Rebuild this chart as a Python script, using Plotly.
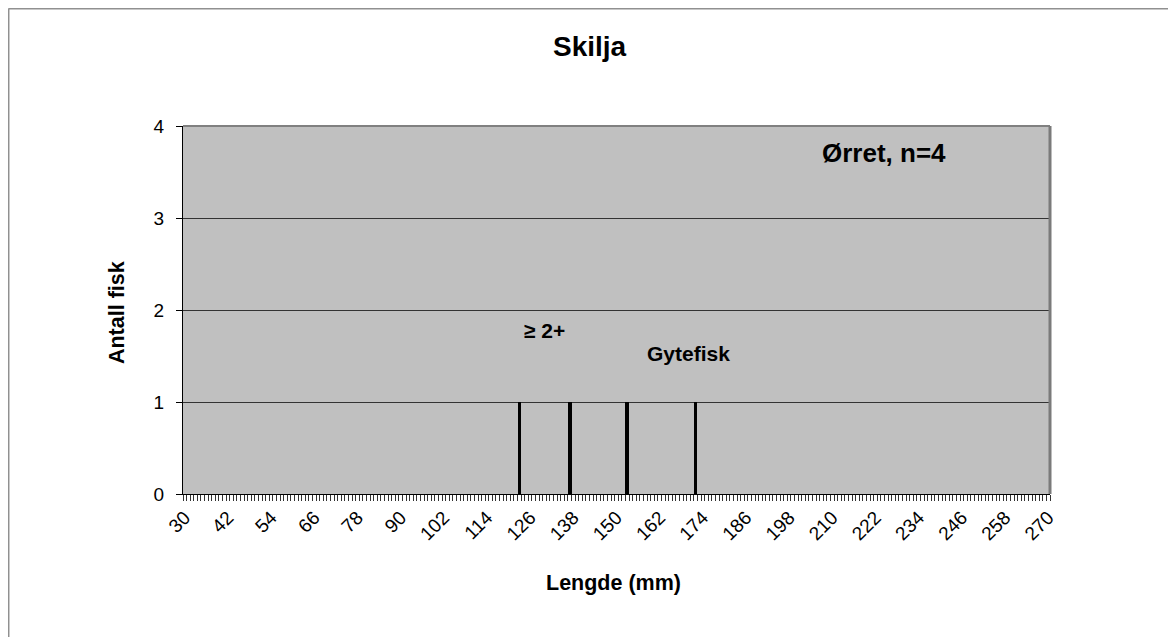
import plotly.graph_objects as go

# Data
lengths = [123, 137, 153, 172]
counts = [1, 1, 1, 1]
x_tick_labels = list(range(30, 271, 12))
y_ticks = [0, 1, 2, 3, 4]

title_text = "Skilja"
x_title = "Lengde (mm)"
y_title = "Antall fisk"
species_label = "Ørret, n=4"
age_label = "≥ 2+"
spawn_label = "Gytefisk"

FONT = "Liberation Sans, Arial, sans-serif"

fig = go.Figure()
fig.add_trace(go.Bar(
    x=lengths, y=counts, width=1.0,
    marker=dict(color="black", line=dict(width=0)),
    showlegend=False, hoverinfo="x+y",
))

fig.update_layout(
    width=1176, height=637,
    margin=dict(l=175, r=134, t=118, b=151),
    paper_bgcolor="white",
    plot_bgcolor="#C0C0C0",
    font=dict(family=FONT, color="black", size=19),
    bargap=0,
    showlegend=False,
)

fig.update_xaxes(
    range=[29.5, 270.5],
    tickmode="array",
    tickvals=x_tick_labels,
    ticktext=[str(v) for v in x_tick_labels],
    tickangle=-45,
    ticks="",
    tickfont=dict(size=19, family=FONT),
    showgrid=False,
    zeroline=False,
    showline=True, linecolor="black", linewidth=1,
    minor=dict(tick0=29.5, dtick=1, ticks="outside", ticklen=6,
               tickcolor="#333333", tickwidth=1, showgrid=False),
    ticklabelstandoff=4,
)

fig.update_yaxes(
    range=[0, 4],
    tickmode="array",
    tickvals=y_ticks,
    ticks="outside", ticklen=6, tickcolor="black",
    tickfont=dict(size=19, family=FONT),
    showgrid=True, gridcolor="#333333", gridwidth=1,
    zeroline=False,
    showline=True, linecolor="black", linewidth=1,
    ticklabelstandoff=8,
)

# plot area gray border top/right
fig.add_shape(type="line", xref="paper", yref="paper", x0=0, x1=1, y0=1, y1=1,
              line=dict(color="#808080", width=2))
fig.add_shape(type="line", xref="paper", yref="paper", x0=1, x1=1, y0=0, y1=1,
              line=dict(color="#7a7a7a", width=3))
# outer chart border (left and top), at the figure's edge
fig.add_shape(type="line", xref="paper", yref="paper", x0=-0.2013, x1=1.2, y0=1.3193, y1=1.3193,
              line=dict(color="#909090", width=2))
fig.add_shape(type="line", xref="paper", yref="paper", x0=-0.2013, x1=-0.2013, y0=-0.45, y1=1.3193,
              line=dict(color="#909090", width=2))

fig.add_annotation(text=f"<b>{title_text}</b>", xref="paper", yref="paper",
                   x=0.4694, y=1.2147, xanchor="center", yanchor="middle",
                   showarrow=False, font=dict(size=28, family=FONT))
fig.add_annotation(text=f"<b>{y_title}</b>", xref="paper", yref="paper",
                   x=-0.0761, y=0.4918, xanchor="center", yanchor="middle",
                   textangle=-90, showarrow=False, font=dict(size=21.5, family=FONT))
fig.add_annotation(text=f"<b>{x_title}</b>", xref="paper", yref="paper",
                   x=0.4971, y=-0.2418, xanchor="center", yanchor="middle",
                   showarrow=False, font=dict(size=21.5, family=FONT))
fig.add_annotation(text=f"<b>{species_label}</b>", xref="paper", yref="paper",
                   x=0.8085, y=0.9266, xanchor="center", yanchor="middle",
                   showarrow=False, font=dict(size=26, family=FONT))
fig.add_annotation(text=f"<b>{age_label}</b>", x=129.9, y=1.78,
                   xanchor="center", yanchor="middle",
                   showarrow=False, font=dict(size=21, family=FONT))
fig.add_annotation(text=f"<b>{spawn_label}</b>", x=169.9, y=1.53,
                   xanchor="center", yanchor="middle",
                   showarrow=False, font=dict(size=21, family=FONT))

fig.write_html("out.html")
